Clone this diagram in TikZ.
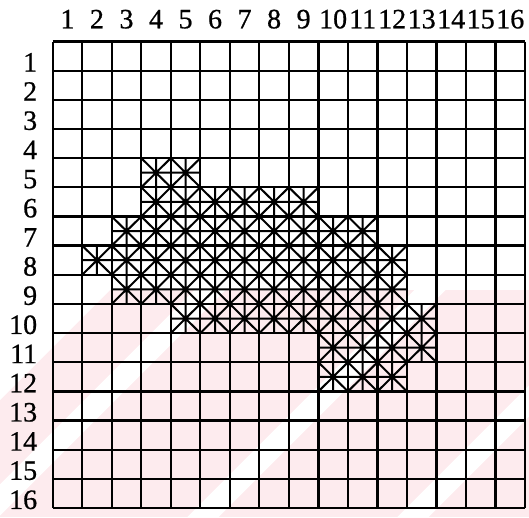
\documentclass[tikz,border=0pt]{standalone}
\usepackage{fontspec}
\setmainfont{Liberation Serif}
\newfontfamily\lblfont[FakeBold=0.7]{Liberation Serif}
\definecolor{wmpink}{HTML}{FDEBEE}
\tikzset{
  gridline/.style={line width=2.3pt, black},
  hatchline/.style={line width=2pt, black},
  collabel/.style={anchor=base, inner sep=0pt, font=\lblfont\fontsize{28}{28}\selectfont},
  rowlabel/.style={anchor=base east, inner sep=0pt, font=\lblfont\fontsize{28}{28}\selectfont},
  stripe/.style={line width=22pt, white}
}
\begin{document}
\begin{tikzpicture}[x=1pt,y=-1pt]
\useasboundingbox (0,0) rectangle (529,517);
% faint watermark background
\begin{scope}
  \clip (0,290) rectangle (529,517);
  \fill[wmpink] (0,290) rectangle (529,517);
  \fill[white] (0,290) -- (110,290) -- (0,400) -- cycle;
  \foreach \s in {500,720,930}
    \draw[stripe] ({\s-540},540) -- ({\s-270},270);
\end{scope}
\begin{scope}[shift={(52.7,41.5)}, x=29.52pt, y=-29.16pt]
  % hatched cells
  \foreach \r/\a/\b in {5/4/5, 6/4/9, 7/3/11, 8/2/12, 9/3/12, 10/5/13, 11/10/13, 12/10/12}{
    \foreach \c in {\a,...,\b}{
      \draw[hatchline] (\c-1,\r-1) -- (\c,\r) (\c,\r-1) -- (\c-1,\r)
        (\c-0.5,\r-1) -- (\c-0.5,\r) (\c-1,\r-0.5) -- (\c,\r-0.5);
    }
  }
  % grid
  \foreach \i in {0,...,16}{
    \draw[gridline] (\i,0) -- (\i,16);
    \draw[gridline] (0,\i) -- (16,\i);
  }
  % labels
  \foreach \c in {1,...,16}
    \node[collabel] (c\c) at (\c-0.5,-0.452) {\c};
  \foreach \r in {1,...,16}
    \node[rowlabel] (r\r) at (-0.52,\r+0.03) {\r};
\end{scope}
\end{tikzpicture}
\end{document}
